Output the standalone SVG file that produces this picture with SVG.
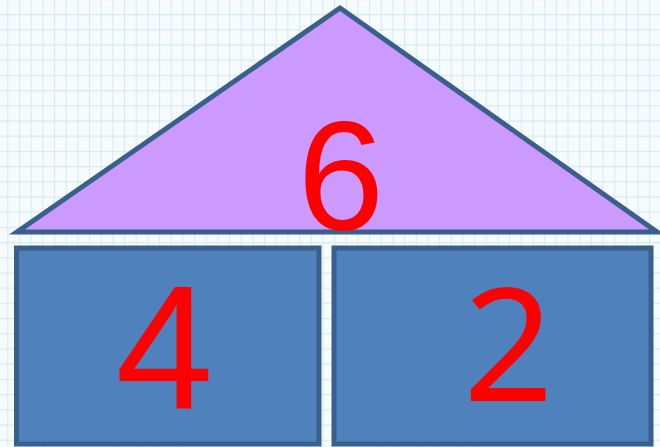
<svg xmlns="http://www.w3.org/2000/svg" width="660" height="447" viewBox="0 0 660 447">
  <defs>
    <pattern id="grid" x="7.3" y="14" width="11.67" height="15.2" patternUnits="userSpaceOnUse">
      <path d="M0.5 0 V15.2 M0 0.5 H11.67" fill="none" stroke="#d3ecf1" stroke-width="1.2"/>
    </pattern>
    <style>
      .part { fill: #4f81bd; stroke: #3a5f8b; stroke-width: 5; }
      .whole { fill: #cc99ff; stroke: #3a5f8b; stroke-width: 5; stroke-linejoin: miter; }
      .num { fill: #ff0000; font-family: "Liberation Sans", Arial, sans-serif; text-anchor: middle; }
    </style>
  </defs>
  <rect width="660" height="447" fill="#f6fbfd"/>
  <rect width="660" height="447" fill="url(#grid)"/>
  <g id="whole">
    <polygon class="whole" points="340,8 17,232 657,232"/>
    <text class="num" x="341" y="229" font-size="156">6</text>
  </g>
  <g id="part-left">
    <rect class="part" x="16.5" y="248" width="302.5" height="196"/>
    <text class="num" x="164.5" y="409" font-size="176">4</text>
  </g>
  <g id="part-right">
    <rect class="part" x="334" y="248" width="317" height="196"/>
    <text class="num" x="508.5" y="400.5" font-size="158" style="font-family:'Noto Sans','Open Sans',sans-serif">2</text>
  </g>
  <g id="connectors"/>
</svg>
